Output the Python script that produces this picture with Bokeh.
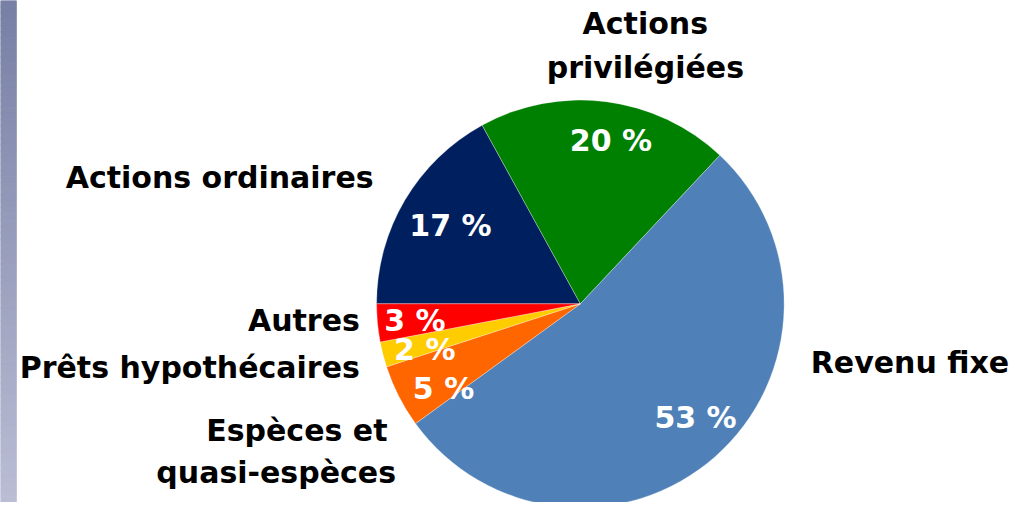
import numpy as np
from bokeh.plotting import figure
from bokeh.models import Range1d, ColumnDataSource
from bokeh.embed import file_html
from bokeh.resources import INLINE
from bokeh.core.properties import value

# ---- data ----
categories = ["Actions ordinaires", "Actions privilégiées", "Revenu fixe",
              "Espèces et quasi-espèces", "Prêts hypothécaires", "Autres"]
shares = [17, 20, 53, 5, 2, 3]
colors = ["#001f5f", "#008000", "#4f81b8", "#ff6600", "#ffcc00", "#ff0000"]

# ---- layout (reference pixel coordinates, mapped onto the figure) ----
W, H = 1015, 502
REF_W, REF_H = 1031, 518
CX, CY, R = 589, 313, 207
FONT = "DejaVu Sans"
FS = "30px"
DY = 13  # baseline correction

def Y(py):
    return REF_H - py + DY

# category label lines: (text, x, baseline_y, align)
cat_lines = [
    ("Actions ordinaires", 379, 196, "right"),
    ("Actions", 655, 37, "center"),
    ("privilégiées", 655, 82, "center"),
    ("Revenu fixe", 823, 387, "left"),
    ("Espèces et", 301, 457, "center"),
    ("quasi-espèces", 280, 500, "center"),
    ("Prêts hypothécaires", 365, 392, "right"),
    ("Autres", 365, 343, "right"),
]
# percentage label positions per slice (center x, baseline y)
pct_pos = [(457, 245), (620, 157), (706, 443), (450, 413), (431, 373), (421, 343)]

p = figure(width=W, height=H, x_range=Range1d(0, REF_W), y_range=Range1d(0, REF_H),
           output_backend="svg", toolbar_location=None, min_border=0,
           background_fill_color="white", border_fill_color="white")
p.axis.visible = False
p.grid.visible = False
p.outline_line_color = None

# decorative gradient strip on the left
n = 80
ys = np.linspace(0, REF_H, n + 1)
c0 = np.array([120, 128, 166])
c1 = np.array([186, 189, 212])
strip_cols = []
for i in range(n):
    t = i / (n - 1)
    c = (c0 * (1 - t) + c1 * t).astype(int)
    strip_cols.append("#%02x%02x%02x" % tuple(c))
p.quad(left=0, right=16, top=[REF_H - v for v in ys[:-1]], bottom=[REF_H - v for v in ys[1:]],
       fill_color=strip_cols, line_color=strip_cols, line_width=1)

# pie
total = float(sum(shares))
cum = np.concatenate([[0], np.cumsum(shares)]) / total
start = np.pi - 2 * np.pi * cum[:-1]
end = np.pi - 2 * np.pi * cum[1:]
src = ColumnDataSource(dict(start=start, end=end, color=colors, cat=categories))
p.wedge(x=CX, y=REF_H - CY, radius=R, start_angle="start", end_angle="end",
        direction="clock", fill_color="color", line_color="white", line_width=0.6,
        line_alpha=0.5, source=src)

# percentage labels
p.text(x=[q[0] for q in pct_pos], y=[Y(q[1]) for q in pct_pos],
       text=[f"{v} %" for v in shares], text_color="white",
       text_font=value(FONT), text_font_size=FS, text_font_style="bold",
       text_align="center", text_baseline="alphabetic")

# category labels
for txt, x, by, al in cat_lines:
    p.text(x=[x], y=[Y(by)], text=[txt], text_color="black",
           text_font=value(FONT), text_font_size=FS, text_font_style="bold",
           text_align=al, text_baseline="alphabetic")

open("out.html", "w").write(file_html(p, INLINE))
